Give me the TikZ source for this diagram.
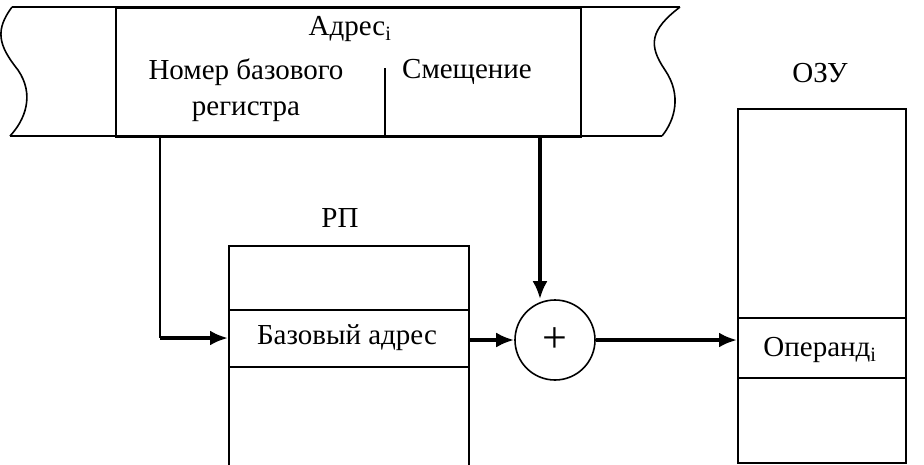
\documentclass[tikz,border=0pt]{standalone}
\usepackage{fontspec}
\setmainfont{Liberation Serif}
\usetikzlibrary{arrows.meta}
\begin{document}
\begin{tikzpicture}[x=1pt,y=-1pt,
  ln/.style={line width=1.6pt},
  arr/.style={line width=3.5pt,-{Latex[length=18pt,width=15pt]}},
  txt/.style={font=\fontsize{29}{36}\selectfont,inner sep=0pt}]
\useasboundingbox (0,0) rectangle (924,464);
% band
\draw[ln] (12,7) -- (680,7);
\draw[ln] (10,136) -- (662,136);
\draw[ln] (12,7) .. controls (-5,30) and (-2,45) .. (18,70) .. controls (35,95) and (25,120) .. (10,136);
\draw[ln] (680,7) .. controls (650,30) and (648,45) .. (665,70) .. controls (682,95) and (675,120) .. (662,136);
\node[draw,ln,minimum width=465,minimum height=129,inner sep=0,anchor=north west] (addr) at (115,7) {};
\coordinate (dt) at (385,68);
\coordinate (db) at (385,136);
\draw[line width=1.1pt] (dt) -- (db);
\node[txt] (at) at (350,29) {Адрес\textsubscript{i}};
\node[txt,align=center] (nb) at (246,90) {Номер базового\\регистра};
\node[txt] (sm) at (467,72) {Смещение};
% RP
\node[txt] (rpl) at (340,218) {РП};
\node[draw,ln,minimum width=240,minimum height=220,anchor=north west] (rp) at (228,245) {};
\draw[ln] (228,310) -- (468,310);
\draw[ln] (228,367) -- (468,367);
\node[txt] (ba) at (347,338) {Базовый адрес};
% sum
\node[draw,ln,circle,minimum size=80,inner sep=0] (sum) at (555,340) {};
\node[font=\fontsize{44}{44}\selectfont,inner sep=0] at (sum) {+};
% OZU
\node[txt] (ozl) at (820,73) {ОЗУ};
\node[draw,ln,minimum width=168,minimum height=354,anchor=north west] (oz) at (737,108) {};
\draw[ln] (737,318) -- (905,318);
\draw[ln] (737,378) -- (905,378);
\node[txt] (op) at (820,350) {Операнд\textsubscript{i}};
% arrows
\coordinate (c1) at (160,136);
\coordinate (c2) at (160,338);
\draw[line width=2pt] (c1) -- (c2);
\draw[arr] (c2) -- (228,338);
\draw[arr] (540,136) -- (sum.north -| 540,0);
\draw[arr] (468,340) -- (sum.west);
\draw[arr] (sum.east) -- (737,340);
\end{tikzpicture}
\end{document}
